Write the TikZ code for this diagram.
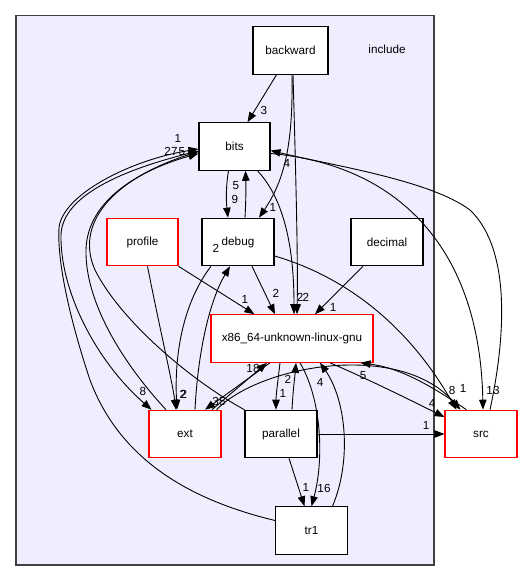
\documentclass[tikz,border=0pt]{standalone}
\usepackage{fontspec}
\setmainfont{Liberation Sans}
\usetikzlibrary{arrows.meta,calc}
\definecolor{clusterfill}{HTML}{EEEEFF}
\definecolor{clusterline}{HTML}{404040}
\begin{document}
\begin{tikzpicture}[x=1pt,y=-1pt,
  box/.style={draw=black,fill=white,line width=1.1pt,minimum width=72pt,minimum height=47.5pt,inner sep=0pt,font=\fontsize{11.7}{14}\selectfont},
  redbox/.style={box,draw=red},
  dep/.style={line width=0.9pt,-{Triangle[length=10pt,width=7.5pt]}},
  lbl/.style={inner sep=0pt,font=\fontsize{11.7}{14}\selectfont}]
\useasboundingbox (0,0) rectangle (523,581);
\fill[white] (0,0) rectangle (523,581);
\draw[fill=clusterfill,draw=clusterline,line width=1.1pt] (16,15.5) rectangle (434,565);
\node[lbl] (include) at (387,49.6) {include};
% nodes
\node[box,minimum width=75pt] (backward) at (290.5,50.5) {backward};
\node[box,minimum width=71pt] (bits) at (234.5,146.5) {bits};
\node[redbox,minimum width=71pt] (profile) at (142.5,242) {profile};
\node[box] (debug) at (238,242) {debug};
\node[box] (decimal) at (387,242) {decimal};
\node[redbox,minimum width=162pt] (x86) at (292,338.5) {x86\_64-unknown-linux-gnu};
\node[redbox] (ext) at (185,434) {ext};
\node[box] (parallel) at (281,434) {parallel};
\node[redbox] (src) at (481,434) {src};
\node[box] (tr1) at (311.5,530.5) {tr1};
% edges
\draw[dep] ($(backward.south)+(-14,0)$) -- ($(bits.north)+(13,0)$);
\node[lbl] (l1) at (264,110) {3};
\draw[dep] ($(backward.south)+(1.5,0)$) .. controls (293,140) and (286,178) .. ($(debug.north)+(21,0)$);
\node[lbl] (l2) at (273,207) {1};
\draw[dep] ($(backward.south)+(2.5,0)$) .. controls (296,180) and (298,260) .. ($(x86.north)+(5,0)$);
\node[lbl] (l3) at (306,297) {2};
\draw[dep] ($(bits.south)+(-6,0)$) .. controls (226,185) and (226,200) .. ($(debug.north)+(-10,0)$);
\node[lbl] (l4) at (235,199.5) {9};
\draw[dep] ($(debug.north)+(7,0)$) .. controls (246,200) and (246,185) .. ($(bits.south)+(11,0)$);
\node[lbl] (l5) at (236,186) {5};
\draw[dep] ($(bits.south)+(23,0)$) .. controls (285,200) and (294,250) .. ($(x86.north)+(2,0)$);
\node[lbl] (l6) at (300,297) {2};
% bits -> ext
\draw[dep] ($(bits.west)+(0,4.5)$) .. controls (110,172) and (62,200) .. (61,235) .. controls (60,290) and (95,360) .. ($(ext.north west)+(3,0)$);
\node[lbl] (l7) at (143,391) {8};
% tr1 -> bits
\draw[dep] ($(tr1.west)+(0,-10)$) .. controls (190,500) and (120,460) .. (90,380) .. controls (70,320) and (57,262) .. (59,228) .. controls (62,195) and (130,160) .. ($(bits.west)+(0,2.5)$);
\node[lbl] (l8) at (178,138.5) {1};
% ext -> bits
\draw[dep] ($(ext.north)+(-19,0)$) .. controls (120,360) and (85,300) .. (86,250) .. controls (87,200) and (140,170) .. ($(bits.west)+(0,7)$);
\node[lbl] (l9) at (171,151) {27};
% parallel -> bits
\draw[dep] (parallel.north west) .. controls (190,380) and (120,320) .. (95,270) .. controls (75,225) and (110,180) .. ($(bits.west)+(0,5)$);
\node[lbl] (l10) at (182,152) {5};
% profile
\draw[dep] (profile.south east) -- ($(x86.north west)+(44,0)$);
\node[lbl] (l11) at (245,299) {1};
\draw[dep] ($(profile.south)+(5,0)$) .. controls (160,330) and (172,380) .. ($(ext.north)+(-9,0)$);
\node[lbl] (l12) at (183,394) {2};
% debug
\draw[dep] ($(debug.south)+(-27,0)$) .. controls (185,300) and (174,350) .. ($(ext.north)+(-8,0)$);
\node[lbl] (l13) at (184,394) {2};
\draw[dep] ($(ext.north)+(10,0)$) .. controls (198,350) and (210,300) .. ($(debug.south)+(-8,0)$);
\node[lbl] (l14) at (216,248) {2};
\draw[dep] ($(debug.south)+(14,0)$) -- ($(x86.north)+(-17,0)$);
\node[lbl] (l15) at (276,293) {2};
\draw[dep] ($(debug.east)+(0,14)$) .. controls (340,275) and (405,320) .. ($(src.north west)+(12,0)$);
\node[lbl] (l16) at (452,390) {8};
% decimal
\draw[dep] ($(decimal.south)+(-24,0)$) -- ($(x86.north)+(23,0)$);
\node[lbl] (l17) at (333,307) {1};
% ext <-> x86
\draw[dep] ($(ext.north)+(27,0)$) -- ($(x86.south)+(-25,0)$);
\node[lbl] (l18) at (253,368) {18};
\draw[dep] ($(x86.south)+(-22,0)$) -- ($(ext.north)+(20,0)$);
\node[lbl] (l19) at (219,401) {35};
% ext -> src
\draw[dep] ($(ext.north east)+(-5,0)$) .. controls (260,365) and (400,340) .. ($(src.north west)+(16,0)$);
\node[lbl] (l20) at (463,388) {1};
% x86 <-> src
\draw[dep] ($(x86.south)+(38,0)$) .. controls (370,380) and (410,400) .. ($(src.west)+(0,-17)$);
\node[lbl] (l21) at (432,403) {4};
\draw[dep] ($(src.north west)+(22,0)$) .. controls (430,385) and (400,368) .. ($(x86.south east)+(-13,0)$);
\node[lbl] (l22) at (363,376) {5};
% parallel
\draw[dep] (parallel.east) -- (src.west);
\node[lbl] (l23) at (426,425) {1};
\draw[dep] ($(x86.south)+(-12,0)$) .. controls (278,380) and (276,395) .. ($(parallel.north)+(-5,0)$);
\node[lbl] (l24) at (283,393) {1};
\draw[dep] ($(parallel.north)+(11,0)$) .. controls (293,390) and (295,375) .. ($(x86.south)+(4,0)$);
\node[lbl] (l25) at (288,379) {2};
\draw[dep] ($(parallel.south)+(8,0)$) -- ($(tr1.north)+(-7,0)$);
\node[lbl] (l26) at (306,487) {1};
% tr1 <-> x86
\draw[dep] ($(x86.south)+(8,0)$) .. controls (322,400) and (324,460) .. (tr1.north);
\node[lbl] (l27) at (324,488) {16};
\draw[dep] ($(tr1.north)+(21,0)$) .. controls (352,460) and (346,400) .. ($(x86.south)+(28,0)$);
\node[lbl] (l28) at (320,382) {4};
% bits <-> src
\draw[dep] ($(bits.east)+(0,7)$) .. controls (400,165) and (480,250) .. ($(src.north)+(2,0)$);
\node[lbl] (l29) at (493,390) {13};
\draw[dep] ($(src.north)+(9,0)$) .. controls (505,340) and (512,250) .. (470,210) .. controls (430,180) and (330,165) .. ($(bits.east)+(0,4)$);
\node[lbl] (l30) at (287,163) {4};
\end{tikzpicture}
\end{document}
